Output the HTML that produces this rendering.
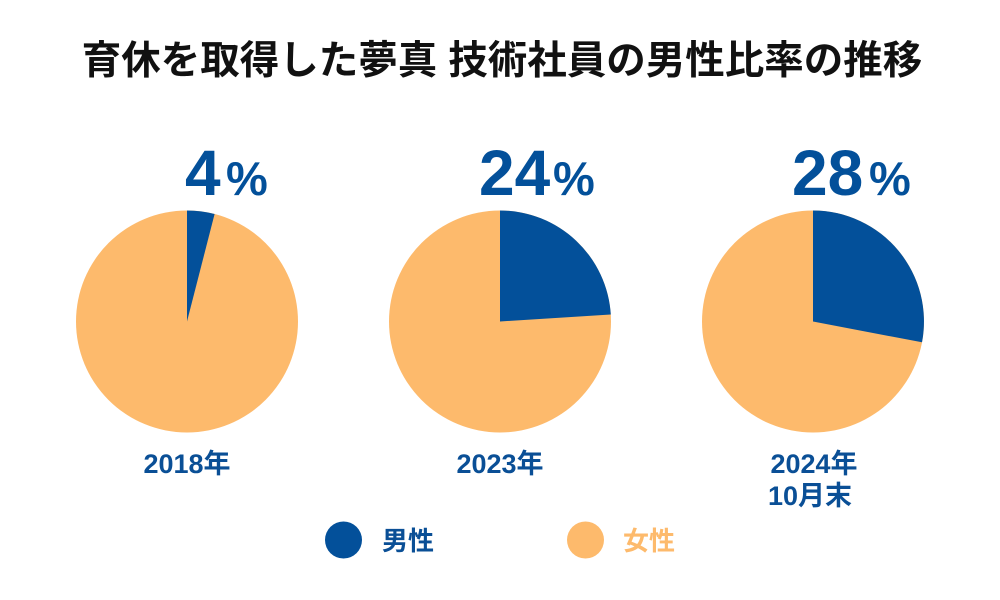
<!DOCTYPE html>
<html>
<head>
<meta charset="utf-8">
<style>
  html,body{margin:0;padding:0;background:#fff;}
  body{width:1000px;height:600px;overflow:hidden;}
  svg{display:block;}
  text{font-family:"Liberation Sans","Noto Sans CJK JP",sans-serif;font-weight:bold;}
</style>
</head>
<body>
<svg width="1000" height="600" viewBox="0 0 1000 600" xmlns="http://www.w3.org/2000/svg">
  <rect width="1000" height="600" fill="#ffffff"/>
  <text x="502" y="74" text-anchor="middle" font-size="39.5" fill="#111111">育休を取得した夢真 技術社員の男性比率の推移</text>

  <!-- Pie 1: 4% -->
  <circle cx="187" cy="321.5" r="111" fill="#FDBA6C"/>
  <path d="M187,321.5 L187,210.5 A111,111 0 0 1 214.6,214 Z" fill="#03509A"/>
  <text x="185" y="195" font-size="64" fill="#03509A">4</text>
  <text x="226" y="195" font-size="47" fill="#03509A">%</text>

  <!-- Pie 2: 24% -->
  <circle cx="500" cy="321.5" r="111" fill="#FDBA6C"/>
  <path d="M500,321.5 L500,210.5 A111,111 0 0 1 610.8,314.5 Z" fill="#03509A"/>
  <text x="479" y="195" font-size="64" fill="#03509A">24</text>
  <text x="553" y="195" font-size="47" fill="#03509A">%</text>

  <!-- Pie 3: 28% -->
  <circle cx="813" cy="321.5" r="111" fill="#FDBA6C"/>
  <path d="M813,321.5 L813,210.5 A111,111 0 0 1 922,342.3 Z" fill="#03509A"/>
  <text x="792" y="195" font-size="64" fill="#03509A">28</text>
  <text x="869" y="195" font-size="47" fill="#03509A">%</text>

  <!-- Year labels -->
  <text x="187" y="473" text-anchor="middle" font-size="27" fill="#0A4F96">2018年</text>
  <text x="500" y="473" text-anchor="middle" font-size="27" fill="#0A4F96">2023年</text>
  <text x="814" y="473" text-anchor="middle" font-size="27" fill="#0A4F96">2024年</text>
  <text x="810" y="505" text-anchor="middle" font-size="27" fill="#0A4F96">10月末</text>

  <!-- Legend -->
  <circle cx="343.5" cy="540" r="18.5" fill="#03509A"/>
  <text x="382" y="550" font-size="26" fill="#0A4F96">男性</text>
  <circle cx="585.5" cy="540" r="18.5" fill="#FDBA6C"/>
  <text x="623" y="550" font-size="26" fill="#FDBA6C">女性</text>
</svg>
</body>
</html>
